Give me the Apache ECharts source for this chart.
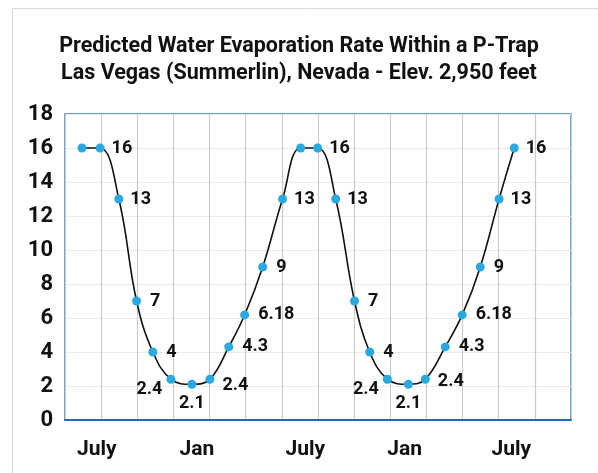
<!DOCTYPE html>
<html>
<head>
<meta charset="utf-8">
<script src="https://cdn.jsdelivr.net/npm/echarts@6/dist/echarts.min.js"></script>
<style>
  html, body { margin: 0; padding: 0; background: #ffffff; }
  #chart { width: 598px; height: 473px; }
</style>
</head>
<body>
<div id="chart"></div>
<script>
// Month position of each reading along the time axis (July .. July, two years)
const monthPos = [0.94, 1.94, 2.98, 3.96, 4.86, 5.86, 7.02, 8.02, 9.06, 9.94, 10.94, 12.04,
                  13.04, 13.98, 14.98, 16.02, 16.86, 17.84, 19.0, 19.94, 21.04, 21.98, 22.98, 24.02, 24.86];
// Predicted evaporation rate at each reading
const rates = [16, 16, 13, 7, 4, 2.4, 2.1, 2.4, 4.3, 6.18, 9, 13,
               16, 16, 13, 7, 4, 2.4, 2.1, 2.4, 4.3, 6.18, 9, 13, 16];
// Season labels along the bottom axis
const seasonNames = ['July', 'Jan', 'July', 'Jan', 'July'];
const seasonPos = [1.76, 7.3, 13.3, 18.8, 24.7];
// Readings shown without a value label
const unlabeled = [0, 12];

const FONT = 'Roboto, "Liberation Sans", Arial, sans-serif';

function labelFor(i) {
  if (unlabeled.indexOf(i) >= 0) return { show: false };
  const v = rates[i];
  const k = i % 12;
  if (k === 5) return { position: 'left', distance: 4, offset: [0, 10] };
  if (k === 6) return { position: 'bottom', distance: 6 };
  if (k === 7) return { position: 'right', distance: 8, offset: [0, i < 12 ? 6 : 2] };
  if (v <= 7 || k === 10) return { position: 'right', distance: 9 };
  return { position: 'right', distance: 7 };
}

const points = monthPos.map((m, i) => ({ value: [m, rates[i]], label: labelFor(i) }));

const chart = echarts.init(document.getElementById('chart'), null, { renderer: 'canvas' });
chart.setOption({
  backgroundColor: '#ffffff',
  animation: false,
  title: {
    text: 'Predicted Water Evaporation Rate Within a P-Trap\nLas Vegas (Summerlin), Nevada - Elev. 2,950 feet',
    left: 'center',
    top: 28,
    textStyle: { fontFamily: FONT, fontWeight: 'bold', fontSize: 21.5, lineHeight: 27, color: '#111111' }
  },
  graphic: [{
    type: 'rect',
    shape: { x: 12.5, y: 8.5, width: 640, height: 520 },
    style: { fill: 'none', stroke: '#d9d9d9', lineWidth: 1 },
    silent: true
  }],
  grid: {
    left: 65, right: 27, top: 114, bottom: 53,
    show: true, borderColor: '#3b7fc4', borderWidth: 1.5, backgroundColor: 'transparent'
  },
  xAxis: {
    type: 'value', min: 0, max: 28, interval: 2,
    axisLine: { show: true, lineStyle: { color: '#1f6bb8', width: 2 } },
    axisTick: { show: false },
    splitLine: { show: true, lineStyle: { color: '#cccccc', width: 1.2 } },
    axisLabel: {
      customValues: seasonPos,
      formatter: function (v) {
        const idx = seasonPos.indexOf(v);
        return idx >= 0 ? seasonNames[idx] : '';
      },
      margin: 19,
      fontFamily: FONT, fontWeight: 'bold', fontSize: 21, color: '#111111'
    }
  },
  yAxis: {
    type: 'value', min: 0, max: 18, interval: 2,
    axisLine: { show: false },
    axisTick: { show: false },
    splitLine: { show: true, lineStyle: { color: '#ebebeb', width: 1 } },
    axisLabel: { margin: 12, fontFamily: FONT, fontWeight: 'bold', fontSize: 22, color: '#111111' }
  },
  series: [{
    type: 'line',
    data: points,
    smooth: 0.4,
    symbol: 'circle',
    symbolSize: 9,
    lineStyle: { color: '#111111', width: 1.6 },
    itemStyle: { color: '#2aa9e0', borderWidth: 0 },
    label: {
      show: true,
      formatter: p => String(p.value[1]),
      fontFamily: FONT, fontWeight: 'bold', fontSize: 18, color: '#111111'
    },
    z: 3
  }]
});
</script>
</body>
</html>
